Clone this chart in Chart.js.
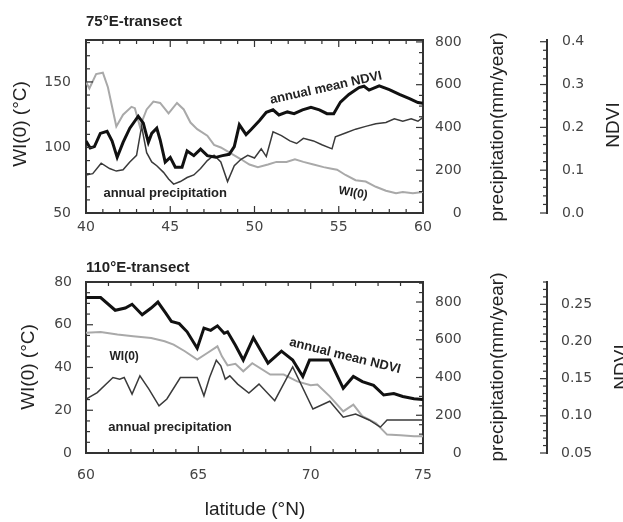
<!DOCTYPE html>
<html>
<head>
<meta charset="utf-8">
<script src="https://cdn.jsdelivr.net/npm/chart.js@4.4.1/dist/chart.umd.min.js"></script>
<style>
  body { margin: 0; background: #fff; }
  #wrap { position: relative; width: 623px; height: 522px; }
  canvas { position: absolute; left: 0; }
</style>
</head>
<body>
<div id="wrap">
  <canvas id="c75" width="623" height="240" style="top:0"></canvas>
  <canvas id="c110" width="623" height="282" style="top:240px"></canvas>
</div>
<script>
// 75E transect
const latNdvi75 = [40.0,40.25,40.5,40.85,41.25,41.55,41.85,42.2,42.6,43.1,43.4,43.7,43.9,44.2,44.4,44.7,45.0,45.3,45.7,46.0,46.4,46.8,47.2,47.7,48.1,48.5,48.8,49.1,49.5,49.8,50.3,50.7,51.1,51.45,51.95,52.35,52.85,53.35,53.85,54.3,54.7,55.1,55.6,56.2,56.5,56.8,57.4,58.0,58.6,59.2,59.7,60.0];
const ndvi75 = [0.168,0.152,0.155,0.186,0.191,0.168,0.130,0.165,0.198,0.226,0.210,0.165,0.186,0.198,0.171,0.119,0.130,0.107,0.107,0.145,0.134,0.149,0.134,0.130,0.134,0.137,0.155,0.206,0.183,0.195,0.216,0.235,0.241,0.229,0.236,0.232,0.241,0.247,0.241,0.232,0.232,0.259,0.277,0.293,0.296,0.287,0.297,0.288,0.277,0.267,0.258,0.256];
const latPrec75 = [40.0,40.4,40.9,41.4,41.8,42.2,42.6,43.0,43.3,43.6,43.9,44.2,44.6,44.9,45.2,45.6,46.0,46.4,46.8,47.2,47.6,48.0,48.4,48.8,49.2,49.6,50.0,50.4,50.7,51.1,51.6,52.1,52.5,52.9,53.5,54.0,54.6,54.8,55.4,56.0,56.6,57.2,57.8,58.3,58.8,59.3,59.7,60.0];
const prec75 = [178,184,233,208,196,202,239,270,405,282,239,221,190,159,135,147,166,178,208,245,270,239,147,221,251,270,257,300,264,380,362,337,325,349,337,319,300,356,374,392,405,417,423,441,429,441,429,447];
const latWi75 = [40.0,40.2,40.6,41.0,41.3,41.8,42.2,42.7,42.9,43.2,43.6,44.0,44.4,44.9,45.4,45.8,46.2,46.6,47.2,47.6,48.0,48.4,48.8,49.2,49.7,50.2,50.8,51.3,51.9,52.4,52.9,53.5,54.1,54.5,54.9,55.4,56.0,56.6,57.2,57.8,58.4,58.8,59.4,60.0];
const wi75 = [150,145,156,157,146,116,125,131,130,116,129,135,134,126,134,129,119,114,109,102,100,97,94,91,87,85,87,89,89,91,89,87,85,84,83,79,75,74,70,67,65,66,65,66];
const xTicks75 = [40, 45, 50, 55, 60];
const wiTicks75 = [50, 100, 150];
const ndviTicks75 = [0, 0.1, 0.2, 0.3, 0.4];

// 110E transect
const latNdvi110 = [60.0,60.65,61.3,61.75,62.05,62.5,62.9,63.2,63.55,63.8,64.15,64.5,64.95,65.25,65.55,65.85,66.15,66.3,66.65,67.0,67.45,68.1,68.7,69.2,69.65,69.95,70.85,71.45,71.9,72.3,72.8,73.25,73.7,74.1,74.6,75.0];
const ndvi110 = [0.259,0.259,0.242,0.245,0.250,0.236,0.245,0.253,0.238,0.227,0.224,0.213,0.191,0.218,0.215,0.221,0.211,0.213,0.195,0.175,0.205,0.171,0.187,0.175,0.153,0.175,0.175,0.137,0.153,0.146,0.141,0.128,0.130,0.126,0.123,0.122];
const latPrec110 = [60.0,60.5,61.2,61.5,61.7,62.05,62.4,62.8,63.25,63.6,64.2,64.95,65.25,65.5,65.8,66.0,66.2,66.4,66.75,67.25,67.7,68.4,69.2,70.1,70.85,71.45,72.0,72.6,73.1,73.4,74.0,75.0];
const prec110 = [286,320,400,391,400,312,409,338,250,286,400,400,303,400,491,462,391,409,365,318,365,277,456,233,274,190,206,175,137,175,175,175];
const latWi110 = [60.0,60.65,61.4,62.1,62.9,63.5,63.9,64.4,64.95,65.4,65.85,66.05,66.3,66.65,67.0,67.4,68.2,68.8,69.4,70.0,70.3,70.85,71.45,71.9,72.3,72.9,73.4,74.0,74.6,75.0];
const wi110 = [56.2,56.6,55.4,54.6,53.8,52.3,50.7,47.6,43.7,46.8,49.9,45.2,41.0,41.7,38.2,42.0,36.7,36.7,33.5,31.7,32.0,26.5,19.5,22.6,17.2,14.0,8.6,8.3,7.8,7.8];
const xTicks110 = [60, 65, 70, 75];
const wiTicks110 = [0, 20, 40, 60, 80];
const ndviTicks110 = [0.05, 0.10, 0.15, 0.20, 0.25];

const precTicks = [0, 200, 400, 600, 800];

const xy = (lat, v) => lat.map((x, i) => ({ x: x, y: v[i] }));
const fixTicks = vals => s => { s.ticks = vals.map(v => ({ value: v })); };

const TICK_FONT = { family: 'DejaVu Sans', size: 14 };
const TICK_COLOR = '#444';
const FRAME = '#333';
const TITLE_FONT = "19px 'Liberation Sans', Arial, sans-serif";
const NOTE_FONT = "bold 13px 'Liberation Sans', Arial, sans-serif";

// inward tick marks + top edge of the frame
const frameTicks = {
  id: 'frameTicks',
  afterDraw(chart, args, opts) {
    const ctx = chart.ctx, a = chart.chartArea;
    ctx.save();
    ctx.strokeStyle = FRAME;
    ctx.lineWidth = 2;
    ctx.beginPath();
    ctx.moveTo(a.left - 1, a.top);
    ctx.lineTo(a.right + 1, a.top);
    ctx.stroke();
    ctx.lineWidth = 1.2;
    opts.marks.forEach(([id, major, minor]) => {
      const s = chart.scales[id];
      const k0 = Math.ceil(s.min / minor - 1e-6), k1 = Math.floor(s.max / minor + 1e-6);
      for (let k = k0; k <= k1; k++) {
        const v = k * minor, r = v / major;
        const len = Math.abs(r - Math.round(r)) < 1e-6 ? 7 : 4;
        const p = s.getPixelForValue(v);
        ctx.beginPath();
        if (id === 'x') {
          ctx.moveTo(p, a.bottom); ctx.lineTo(p, a.bottom - len);
          ctx.moveTo(p, a.top); ctx.lineTo(p, a.top + len);
        } else if (id === 'yWI') {
          ctx.moveTo(a.left, p); ctx.lineTo(a.left + len, p);
        } else if (id === 'yP') {
          ctx.moveTo(a.right, p); ctx.lineTo(a.right - len, p);
        } else {
          ctx.moveTo(s.left, p); ctx.lineTo(s.left - len, p);
        }
        ctx.stroke();
      }
    });
    ctx.restore();
  }
};

// axis titles and curve labels
const texts = {
  id: 'texts',
  afterDraw(chart, args, opts) {
    const ctx = chart.ctx;
    opts.items.forEach(t => {
      let x = t.x, y = t.y;
      if (t.lat !== undefined) {
        x = chart.scales.x.getPixelForValue(t.lat);
        y = chart.scales.yWI.getPixelForValue(t.wi);
      }
      ctx.save();
      ctx.translate(x, y);
      ctx.rotate((t.rot || 0) * Math.PI / 180);
      ctx.font = t.font;
      ctx.fillStyle = t.color || '#222';
      ctx.textAlign = t.align || 'center';
      ctx.textBaseline = t.base || 'middle';
      ctx.fillText(t.text, 0, 0);
      ctx.restore();
    });
  }
};

function makePanel(id, p) {
  return new Chart(document.getElementById(id), {
    type: 'line',
    data: {
      datasets: [
        { data: xy(p.latN, p.ndvi), yAxisID: 'yN', borderColor: '#111', borderWidth: 3 },
        { data: xy(p.latP, p.prec), yAxisID: 'yP', borderColor: '#3a3a3a', borderWidth: 1.5 },
        { data: xy(p.latW, p.wi), yAxisID: 'yWI', borderColor: '#a9a9a9', borderWidth: 2 }
      ]
    },
    options: {
      responsive: false,
      animation: false,
      devicePixelRatio: 1,
      layout: { padding: { left: 0, right: 0, top: p.padTop, bottom: p.padBottom } },
      elements: { point: { radius: 0 }, line: { tension: 0 } },
      plugins: {
        legend: { display: false },
        tooltip: { enabled: false },
        frameTicks: { marks: p.marks },
        texts: { items: p.texts }
      },
      scales: {
        x: {
          type: 'linear', min: p.xMin, max: p.xMax,
          afterBuildTicks: fixTicks(p.xTicks),
          afterFit: s => { s.height = 27; },
          grid: { display: false, drawTicks: false },
          border: { display: true, color: FRAME, width: 2 },
          ticks: { padding: p.xPad, font: TICK_FONT, color: TICK_COLOR }
        },
        yWI: {
          position: 'left', min: p.wiMin, max: p.wiMax,
          afterBuildTicks: fixTicks(p.wiTicks),
          afterFit: s => { s.width = 86; },
          grid: { display: false, drawTicks: false },
          border: { display: true, color: FRAME, width: 2 },
          ticks: { padding: p.wiPad, font: TICK_FONT, color: TICK_COLOR }
        },
        yP: {
          position: 'right', min: 0, max: p.pMax,
          afterBuildTicks: fixTicks(precTicks),
          afterFit: s => { s.width = 124; },
          grid: { display: false, drawTicks: false },
          border: { display: true, color: FRAME, width: 2 },
          ticks: {
            padding: 12, crossAlign: 'near', font: TICK_FONT, color: TICK_COLOR,
            callback: v => String(v).padStart(3, '\u2007')
          }
        },
        yN: {
          position: 'right', min: p.nMin, max: p.nMax,
          afterBuildTicks: fixTicks(p.ndviTicks),
          afterFit: s => { s.width = 76; },
          grid: { display: false, drawTicks: false },
          border: { display: true, color: FRAME, width: 2 },
          ticks: {
            padding: p.nPad, font: TICK_FONT, color: TICK_COLOR,
            callback: v => v.toFixed(p.nDigits)
          }
        }
      }
    },
    plugins: [frameTicks, texts]
  });
}

makePanel('c75', {
  latN: latNdvi75, ndvi: ndvi75, latP: latPrec75, prec: prec75, latW: latWi75, wi: wi75,
  xTicks: xTicks75, wiTicks: wiTicks75, ndviTicks: ndviTicks75,
  padTop: 40, padBottom: 0, xPad: 6, wiPad: 15, nPad: 15,
  xMin: 40, xMax: 60, wiMin: 50, wiMax: 182,
  pMax: 809, nMin: 0, nMax: 0.404, nDigits: 1,
  marks: [['x', 5, 1], ['yWI', 50, 10], ['yP', 200, 50], ['yN', 0.1, 0.02]],
  texts: [
    { text: '75°E-transect', x: 86, y: 26, align: 'left', base: 'alphabetic', font: "bold 15px 'Liberation Sans', Arial, sans-serif" },
    { text: 'WI(0) (°C)', x: 21, y: 124, rot: -90, font: TITLE_FONT },
    { text: 'precipitation(mm/year)', x: 498, y: 127, rot: -90, font: TITLE_FONT },
    { text: 'NDVI', x: 614, y: 125, rot: -90, font: TITLE_FONT },
    { text: 'annual mean NDVI', lat: 54.24, wi: 145.4, rot: -12.5, font: NOTE_FONT },
    { text: 'annual precipitation', lat: 44.7, wi: 65.3, font: NOTE_FONT },
    { text: 'WI(0)', lat: 55.85, wi: 65.3, rot: 10, font: "bold 12px 'Liberation Sans', Arial, sans-serif" }
  ]
});

makePanel('c110', {
  latN: latNdvi110, ndvi: ndvi110, latP: latPrec110, prec: prec110, latW: latWi110, wi: wi110,
  xTicks: xTicks110, wiTicks: wiTicks110, ndviTicks: ndviTicks110,
  padTop: 42, padBottom: 42, xPad: 14, wiPad: 14, nPad: 14,
  xMin: 60, xMax: 75, wiMin: 0, wiMax: 80,
  pMax: 906, nMin: 0.05, nMax: 0.28, nDigits: 2,
  marks: [['x', 5, 1], ['yWI', 20, 5], ['yP', 200, 50], ['yN', 0.05, 0.01]],
  texts: [
    { text: '110°E-transect', x: 86, y: 32, align: 'left', base: 'alphabetic', font: "bold 15px 'Liberation Sans', Arial, sans-serif" },
    { text: 'WI(0) (°C)', x: 29, y: 127, rot: -90, font: TITLE_FONT },
    { text: 'precipitation(mm/year)', x: 498, y: 127, rot: -90, font: TITLE_FONT },
    { text: 'NDVI', x: 622, y: 127, rot: -90, font: TITLE_FONT },
    { text: 'latitude (°N)', x: 255, y: 270, font: TITLE_FONT },
    { text: 'annual mean NDVI', lat: 71.53, wi: 45.4, rot: 14, font: NOTE_FONT },
    { text: 'WI(0)', lat: 61.7, wi: 44.9, font: "bold 12px 'Liberation Sans', Arial, sans-serif" },
    { text: 'annual precipitation', lat: 63.74, wi: 12.2, font: NOTE_FONT }
  ]
});
</script>
</body>
</html>
